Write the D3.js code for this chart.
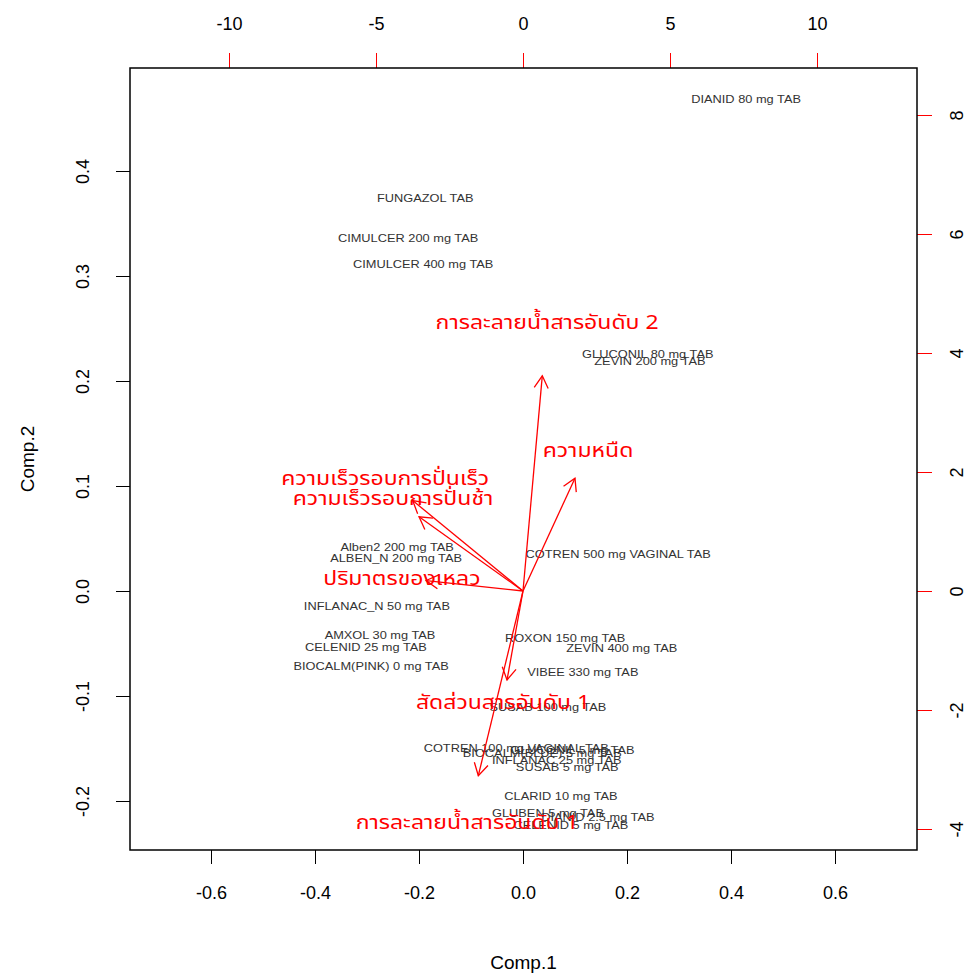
<!DOCTYPE html>
<html>
<head>
<meta charset="utf-8">
<script src="https://cdn.jsdelivr.net/npm/d3@7"></script>
<style>
  body { margin: 0; background: #fff; }
  text { font-family: "Liberation Sans", Arial, sans-serif; }
</style>
</head>
<body>
<div id="biplot"></div>
<script>
// drug scores (Comp.1, Comp.2)
var drugs = ["DIANID 80 mg TAB", "FUNGAZOL TAB", "CIMULCER 200 mg TAB", "CIMULCER 400 mg TAB",
  "GLUCONIL 80 mg TAB", "ZEVIN 200 mg TAB", "COTREN 500 mg VAGINAL TAB", "Alben2 200 mg TAB",
  "ALBEN_N 200 mg TAB", "INFLANAC_N 50 mg TAB", "AMXOL 30 mg TAB", "CELENID 25 mg TAB",
  "BIOCALM(PINK) 0 mg TAB", "ROXON 150 mg TAB", "ZEVIN 400 mg TAB", "VIBEE 330 mg TAB",
  "SUSAB 100 mg TAB", "COTREN 100 mg VAGINAL TAB", "BIOCALM(BLUE) 5 mg TAB", "GLUCONIL 5 mg TAB",
  "INFLANAC 25 mg TAB", "SUSAB 5 mg TAB", "CLARID 10 mg TAB", "GLUBEN 5 mg TAB",
  "DIANID 2.5 mg TAB", "CELENID 5 mg TAB"]
var comp1 = [0.429, -0.188, -0.221, -0.192, 0.240, 0.244, 0.183, -0.242, -0.244, -0.281, -0.275, -0.302,
  -0.292, 0.081, 0.190, 0.115, 0.048, -0.013, 0.037, 0.095, 0.065, 0.085, 0.073, 0.048, 0.144, 0.092]
var comp2 = [0.468, 0.374, 0.336, 0.311, 0.225, 0.219, 0.035, 0.042, 0.031, -0.015, -0.042, -0.054,
  -0.072, -0.045, -0.055, -0.077, -0.111, -0.150, -0.155, -0.152, -0.161, -0.168, -0.196, -0.212,
  -0.216, -0.223]

// variable loadings (secondary axes)
var vars = ["การละลายน้ำสารอันดับ 2", "ความหนืด", "ความเร็วรอบการปั่นเร็ว", "ความเร็วรอบการปั่นช้า",
  "ปริมาตรของเหลว", "สัดส่วนสารอันดับ 1", "การละลายน้ำสารอันดับ 1"]
var load1 = [0.82, 2.21, -4.69, -4.42, -4.12, -0.68, -1.90]
var load2 = [4.52, 2.37, 1.90, 1.56, 0.22, -1.87, -3.88]

var bottomTicks = [-0.6, -0.4, -0.2, 0.0, 0.2, 0.4, 0.6]
var leftTicks = [-0.2, -0.1, 0.0, 0.1, 0.2, 0.3, 0.4]
var topTicks = [-10, -5, 0, 5, 10]
var rightTicks = [-4, -2, 0, 2, 4, 6, 8]

var W = 980, H = 978
var box = {left: 130, right: 917, top: 68, bottom: 850}

// R style: plain hyphen for minus
var f1 = function(d) { return d3.format(".1f")(d).replace("\u2212", "-") }
var f0 = function(d) { return d3.format("d")(d).replace("\u2212", "-") }

var svg = d3.select("#biplot").append("svg")
    .attr("width", W)
    .attr("height", H)

var x = d3.scaleLinear().domain([-0.6, 0.6]).range([211, 835])
var y = d3.scaleLinear().domain([-0.2, 0.4]).range([801, 171])
var x2 = d3.scaleLinear().domain([-10, 10]).range([229, 817])
var y2 = d3.scaleLinear().domain([-4, 8]).range([829, 115])

// bottom axis
var gb = svg.append("g")
    .attr("transform", "translate(0," + box.bottom + ")")
    .call(d3.axisBottom(x).tickValues(bottomTicks).tickFormat(f1).tickSize(14).tickSizeOuter(0).tickPadding(22))
gb.select(".domain").remove()
gb.selectAll("line").attr("stroke", "#000")
gb.selectAll("text").style("font-size", "18px").attr("fill", "#000")

// left axis
var gl = svg.append("g")
    .attr("transform", "translate(" + box.left + ",0)")
    .call(d3.axisLeft(y).tickValues(leftTicks).tickFormat(f1).tickSize(14).tickSizeOuter(0))
gl.select(".domain").remove()
gl.selectAll("line").attr("stroke", "#000")
gl.selectAll("text")
    .style("font-size", "18px").attr("fill", "#000")
    .attr("x", null).attr("dy", null)
    .attr("text-anchor", "middle")
    .attr("transform", "translate(-41,0) rotate(-90)")
    .attr("y", 0)

// top axis (loadings, red ticks)
var gt = svg.append("g")
    .attr("transform", "translate(0," + box.top + ")")
    .call(d3.axisTop(x2).tickValues(topTicks).tickFormat(f0).tickSize(15).tickSizeOuter(0).tickPadding(23))
gt.select(".domain").remove()
gt.selectAll("line").attr("stroke", "red")
gt.selectAll("text").style("font-size", "18px").attr("fill", "#000")

// right axis (loadings, red ticks)
var gr = svg.append("g")
    .attr("transform", "translate(" + box.right + ",0)")
    .call(d3.axisRight(y2).tickValues(rightTicks).tickFormat(f0).tickSize(15).tickSizeOuter(0))
gr.select(".domain").remove()
gr.selectAll("line").attr("stroke", "red")
gr.selectAll("text")
    .style("font-size", "18px").attr("fill", "#000")
    .attr("x", null).attr("dy", null)
    .attr("text-anchor", "middle")
    .attr("transform", "translate(46,0) rotate(-90)")
    .attr("y", 0)

// frame
svg.append("rect")
    .attr("x", box.left).attr("y", box.top)
    .attr("width", box.right - box.left).attr("height", box.bottom - box.top)
    .attr("fill", "none").attr("stroke", "#000").attr("stroke-width", 1.5)

// axis titles
svg.append("text")
    .attr("x", (box.left + box.right) / 2).attr("y", 969)
    .attr("text-anchor", "middle")
    .style("font-size", "19px")
    .text("Comp.1")
svg.append("text")
    .attr("transform", "translate(34," + ((box.top + box.bottom) / 2) + ") rotate(-90)")
    .attr("text-anchor", "middle")
    .style("font-size", "19px")
    .text("Comp.2")

// score labels
svg.selectAll("text.drug")
    .data(drugs)
    .enter()
    .append("text")
    .attr("class", "drug")
    .attr("transform", function(d, i) { return "translate(" + x(comp1[i]) + "," + y(comp2[i]) + ") scale(1.22,1)" })
    .attr("dy", "0.35em")
    .attr("text-anchor", "middle")
    .attr("fill", "#333")
    .style("font-size", "10.5px")
    .text(function(d) { return d })

// arrows drawn to 0.8 of the loading, label at the loading
var ox = x2(0), oy = y2(0)
var head = 14, ang = Math.PI / 6
var arrows = svg.append("g").attr("stroke", "red").attr("stroke-width", 1.3).attr("fill", "none")
vars.forEach(function(v, i) {
    var tx = x2(load1[i] * 0.8), ty = y2(load2[i] * 0.8)
    var a = Math.atan2(ty - oy, tx - ox)
    arrows.append("line")
        .attr("x1", ox).attr("y1", oy).attr("x2", tx).attr("y2", ty)
    arrows.append("path")
        .attr("d", "M" + (tx - head * Math.cos(a - ang)) + "," + (ty - head * Math.sin(a - ang)) +
            "L" + tx + "," + ty +
            "L" + (tx - head * Math.cos(a + ang)) + "," + (ty - head * Math.sin(a + ang)))
})

svg.selectAll("text.var")
    .data(vars)
    .enter()
    .append("text")
    .attr("class", "var")
    .attr("transform", function(d, i) { return "translate(" + x2(load1[i]) + "," + y2(load2[i]) + ") scale(1.15,1)" })
    .attr("dy", "0.35em")
    .attr("text-anchor", "middle")
    .attr("fill", "red")
    .style("font-family", "'Noto Sans Thai', Tahoma, 'DejaVu Sans', sans-serif")
    .style("font-size", "20px")
    .text(function(d) { return d })
</script>
</body>
</html>
